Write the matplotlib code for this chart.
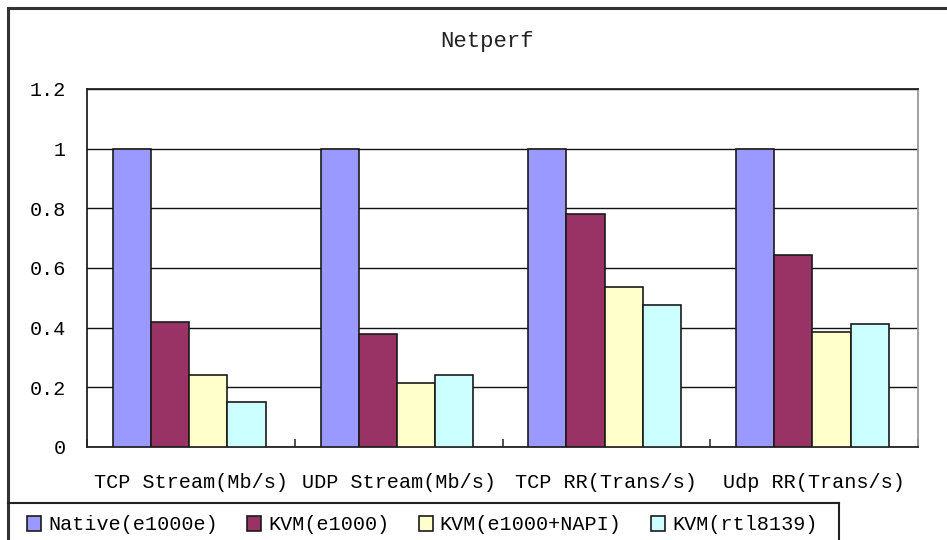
import matplotlib
matplotlib.use("Agg")
import matplotlib.pyplot as plt
from matplotlib.lines import Line2D
from matplotlib.patches import Patch
import numpy as np

# Normalised netperf results (native = 1)
categories = ["TCP Stream(Mb/s)", "UDP Stream(Mb/s)", "TCP RR(Trans/s)", "Udp RR(Trans/s)"]
series_names = ["Native(e1000e)", "KVM(e1000)", "KVM(e1000+NAPI)", "KVM(rtl8139)"]
native = [1.0, 1.0, 1.0, 1.0]
kvm_e1000 = [0.42, 0.38, 0.78, 0.645]
kvm_napi = [0.24, 0.215, 0.535, 0.385]
kvm_rtl8139 = [0.152, 0.24, 0.475, 0.413]
yticks = [0, 0.2, 0.4, 0.6, 0.8, 1.0, 1.2]
ytick_labels = ["0", "0.2", "0.4", "0.6", "0.8", "1", "1.2"]

colors = ["#9999FF", "#993366", "#FFFFCC", "#CCFFFF"]

plt.rcParams["font.family"] = ["Liberation Mono", "DejaVu Sans Mono"]
FS = 14.5

W, H = 947, 540
fig = plt.figure(figsize=(W / 100, H / 100), dpi=100)
ax = fig.add_axes([87 / W, 1 - 447 / H, (918 - 87) / W, (447 - 89) / H])

x = np.arange(len(categories))
bw = 0.184
values = [native, kvm_e1000, kvm_napi, kvm_rtl8139]
for k, (vals, col) in enumerate(zip(values, colors)):
    offs = -2 * bw + (k + 0.5) * bw - 0.008
    ax.bar(x + offs, vals, width=bw, color=col, edgecolor="#1a1a1a",
           linewidth=1.2, zorder=3)

ax.set_xlim(-0.5, len(categories) - 0.5)
ax.set_ylim(0, 1.2)
ax.set_yticks(yticks)
ax.set_yticklabels(ytick_labels)
ax.set_xticks(x)
ax.set_xticklabels(categories)
ax.tick_params(axis="y", length=0, pad=15, labelsize=FS)
ax.tick_params(axis="x", length=0, pad=19, labelsize=FS)

# category separators on the bottom axis
ax.set_xticks(np.arange(len(categories) + 1) - 0.5, minor=True)
ax.tick_params(axis="x", which="minor", direction="in", length=6,
               width=1.2, color="#333333")

ax.yaxis.grid(True, color="#111111", linewidth=1.0, zorder=0)
ax.set_axisbelow(True)
for side in ["left", "bottom", "top"]:
    ax.spines[side].set_color("#222222")
    ax.spines[side].set_linewidth(1.3)
ax.spines["right"].set_color("#9a9a9a")
ax.spines["right"].set_linewidth(1.3)

fig.text(487 / W, 1 - 42 / H, "Netperf", ha="center", va="center",
         fontsize=16, color="#222222")

# outer chart frame (top and left edges)
frame_kw = dict(transform=fig.transFigure, color="#333333", linewidth=2.2)
fig.add_artist(Line2D([8 / W, 1.0], [1 - 8 / H, 1 - 8 / H], **frame_kw))
fig.add_artist(Line2D([8 / W, 8 / W], [1 - 8 / H, 0.0], **frame_kw))

# legend row along the bottom
handles = [Patch(facecolor=c, edgecolor="#1a1a1a", linewidth=1.2) for c in colors]
fig.legend(handles, series_names, loc="center left",
           bbox_to_anchor=(27 / W, 1 - 525 / H), ncol=4, frameon=False,
           fontsize=FS, handlelength=0.7, handleheight=0.7,
           handletextpad=0.35, columnspacing=1.45, borderpad=0, borderaxespad=0)
box_kw = dict(transform=fig.transFigure, color="#222222", linewidth=1.5)
fig.add_artist(Line2D([8 / W, 839 / W], [1 - 503 / H, 1 - 503 / H], **box_kw))
fig.add_artist(Line2D([839 / W, 839 / W], [1 - 503 / H, 0.0], **box_kw))

fig.savefig("out.png", dpi=100, facecolor="white")
